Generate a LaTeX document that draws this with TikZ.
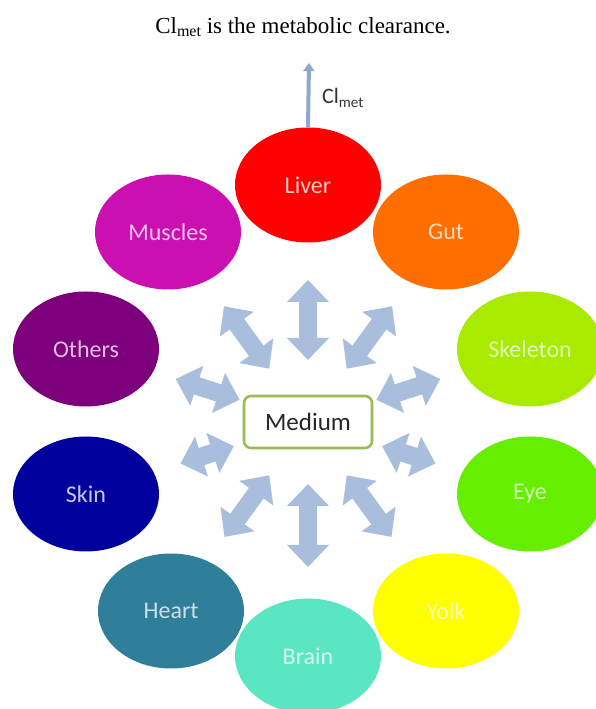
\documentclass[tikz,border=0pt]{standalone}
\usepackage{fontspec}
\setmainfont{Liberation Serif}
\newfontfamily\carlito{Carlito}
\usetikzlibrary{shapes.geometric,arrows.meta}
\definecolor{cLiver}{HTML}{FF0000}
\definecolor{cGut}{HTML}{FF6E00}
\definecolor{cSkel}{HTML}{A8EA00}
\definecolor{cEye}{HTML}{66EE00}
\definecolor{cYolk}{HTML}{FFFF00}
\definecolor{cBrain}{HTML}{5AE6C2}
\definecolor{cHeart}{HTML}{2F7F9A}
\definecolor{cSkin}{HTML}{00009C}
\definecolor{cOthers}{HTML}{7D007D}
\definecolor{cMuscles}{HTML}{CB10B2}
\definecolor{arrowblue}{HTML}{A9BEDC}
\definecolor{clblue}{HTML}{8FA8CC}
\definecolor{medgreen}{HTML}{9BBB59}
\tikzset{
  organ/.style={ellipse, minimum width=146pt, minimum height=115pt, inner sep=0pt,
    font=\carlito\fontsize{24}{28}\selectfont},
  medbox/.style={draw=medgreen, line width=2.6pt, rounded corners=7pt, fill=white,
    minimum width=128pt, minimum height=52pt, font=\carlito\fontsize{25}{30}\selectfont, text=black!85},
  blockarrow/.style={fill=arrowblue},
}
\begin{document}
\begin{tikzpicture}[x=1pt,y=1pt]
\useasboundingbox (0,0) rectangle (596,709);
\clip (0,0) rectangle (596,709);
\fill[white] (0,0) rectangle (596,709);
% title
\node[font=\fontsize{23}{27}\selectfont, text=black] (title) at (303,682)
  {Cl\raisebox{-2.5pt}{\fontsize{16}{18}\selectfont met} is the metabolic clearance.};
% organs
\node[organ, fill=cMuscles, text=cMuscles!25!white] (muscles) at (168,477) {Muscles};
\node[organ, fill=cGut, text=cGut!25!white] (gut) at (446,477) {Gut};
\node[organ, fill=cLiver, text=cLiver!22!white] (liver) at (308,524) {Liver};
\node[organ, fill=cOthers, text=cOthers!25!white] (others) at (86,360) {Others};
\node[organ, fill=cSkel, text=cSkel!30!white] (skeleton) at (530,360) {Skeleton};
\node[organ, fill=cSkin, text=cSkin!22!white] (skin) at (86,215) {Skin};
\node[organ, fill=cEye, text=cEye!30!white] (eye) at (530,215) {Eye};
\node[organ, fill=cHeart, text=cHeart!25!white] (heart) at (171,98) {Heart};
\node[organ, fill=cYolk, text=cYolk!30!white] (yolk) at (446,98) {Yolk};
\node[organ, fill=cBrain, text=cBrain!25!white] (brain) at (308,53) {Brain};
% medium
\node[medbox] (medium) at (308,287) {Medium};
% block double arrows
\foreach \a/\ri/\ro in {90/62/142, 54/66/143, 126/66/143, 18/72/139, 162/72/139,
                        -18/78/134, -162/78/134, -54/66/142, -126/66/142, -90/62/145} {
  \begin{scope}[shift={(medium.center)}, rotate=\a]
    \fill[blockarrow] (\ri,0) -- (\ri+22,21) -- (\ri+22,9) -- (\ro-22,9) -- (\ro-22,21)
      -- (\ro,0) -- (\ro-22,-21) -- (\ro-22,-9) -- (\ri+22,-9) -- (\ri+22,-21) -- cycle;
  \end{scope}
}
% clearance arrow
\coordinate (clend) at (309,646);
\draw[clblue, line width=4pt, -{Triangle[width=11pt,length=8pt]}] (liver.north) -- (clend);
\node[anchor=west, inner sep=0pt, text=black!80, font=\carlito] (cl) at (322,611)
  {\fontsize{22}{24}\selectfont Cl\raisebox{-4pt}{\fontsize{15}{17}\selectfont met}};
\end{tikzpicture}
\end{document}
